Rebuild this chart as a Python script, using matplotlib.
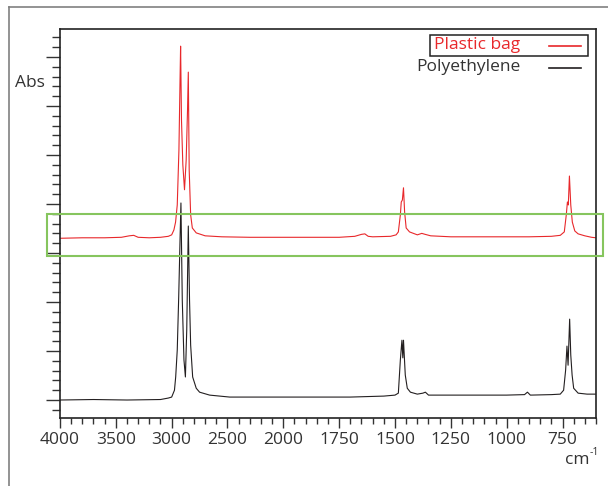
import numpy as np
import matplotlib
matplotlib.use('Agg')
import matplotlib.pyplot as plt
from matplotlib.ticker import FixedLocator, FuncFormatter, NullFormatter
from matplotlib.lines import Line2D
from matplotlib.patches import Rectangle

# spectra (wavenumber cm-1, absorbance)
bag_wn = [4000, 3800, 3600, 3450, 3380, 3340, 3300, 3200, 3100, 3030, 3000, 2980,
          2965, 2950, 2935, 2925, 2920, 2912, 2900, 2885, 2870, 2858, 2851, 2843,
          2830, 2815, 2780, 2700, 2550, 2300, 2000, 1750, 1680, 1650, 1635, 1620,
          1600, 1520, 1495, 1485, 1476, 1472, 1467, 1462, 1457, 1450, 1435, 1400,
          1380, 1365, 1340, 1250, 1100, 1000, 900, 800, 760, 742, 733, 728, 724,
          719, 713, 706, 695, 680, 650, 620, 600]
bag_abs = [0.330, 0.331, 0.331, 0.332, 0.335, 0.336, 0.332, 0.331, 0.332, 0.334, 0.337, 0.347,
           0.363, 0.398, 0.510, 0.653, 0.722, 0.571, 0.480, 0.429, 0.490, 0.592, 0.669, 0.469,
           0.378, 0.351, 0.341, 0.335, 0.333, 0.332, 0.332, 0.332, 0.334, 0.338, 0.339, 0.334,
           0.333, 0.334, 0.337, 0.343, 0.378, 0.404, 0.408, 0.433, 0.384, 0.351, 0.343, 0.337,
           0.340, 0.338, 0.335, 0.333, 0.333, 0.333, 0.333, 0.334, 0.336, 0.343, 0.378, 0.404, 0.398,
           0.457, 0.398, 0.363, 0.345, 0.339, 0.335, 0.332, 0.331]

pe_wn = [4000, 3700, 3400, 3100, 3030, 3000, 2975, 2964, 2950, 2937, 2925, 2917,
         2905, 2890, 2877, 2865, 2851, 2840, 2830, 2812, 2780, 2750, 2660, 2480,
         2000, 1700, 1550, 1500, 1485, 1476, 1469, 1465, 1462, 1454, 1445, 1431,
         1400, 1375, 1364, 1350, 1200, 1000, 920, 907, 894, 800, 760, 745, 736,
         730, 725, 718, 713, 707, 700, 680, 640, 600]
pe_abs = [0.000, 0.001, 0.000, 0.001, 0.004, 0.006, 0.020, 0.047, 0.102, 0.210, 0.327, 0.402,
          0.204, 0.082, 0.047, 0.143, 0.355, 0.204, 0.112, 0.047, 0.024, 0.016, 0.010, 0.006,
          0.006, 0.006, 0.008, 0.010, 0.014, 0.082, 0.122, 0.086, 0.122, 0.051, 0.024, 0.016,
          0.012, 0.014, 0.016, 0.010, 0.010, 0.010, 0.011, 0.016, 0.010, 0.011, 0.012, 0.020, 0.061,
          0.110, 0.071, 0.165, 0.092, 0.051, 0.024, 0.014, 0.012, 0.012]

major_x = [4000, 3500, 3000, 2500, 2000, 1750, 1500, 1250, 1000, 750]

plt.rcParams['font.family'] = ['Open Sans', 'DejaVu Sans']
txt = '#333333'


def fwd(x):
    x = np.asarray(x, dtype=float)
    return np.where(x >= 2000, 2000 + (x - 2000) / 2.0, x)


def inv(u):
    u = np.asarray(u, dtype=float)
    return np.where(u >= 2000, 2000 + 2.0 * (u - 2000), u)


fig = plt.figure(figsize=(6.08, 4.86), dpi=100)
ax = fig.add_axes([60 / 608, 68 / 486, 536 / 608, 389 / 486])

ax.plot(bag_wn, bag_abs, color='#e8282b', lw=0.8)
ax.plot(pe_wn, pe_abs, color='#231f20', lw=0.8)

ax.set_xscale('function', functions=(fwd, inv))
ax.set_xlim(4000, 600)
ax.set_ylim(-0.0367, 0.757)

minor_x = list(range(4000, 2000, -100)) + list(range(2000, 599, -50))
ax.xaxis.set_major_locator(FixedLocator(major_x))
ax.xaxis.set_minor_locator(FixedLocator(minor_x))
ax.xaxis.set_major_formatter(FuncFormatter(lambda v, p: '%d' % round(v)))
ax.xaxis.set_minor_formatter(NullFormatter())

ax.yaxis.set_major_locator(FixedLocator(np.arange(0, 0.71, 0.1)))
ax.yaxis.set_minor_locator(FixedLocator(np.arange(-0.02, 0.75, 0.02)))
ax.yaxis.set_major_formatter(NullFormatter())

ax.tick_params(axis='x', which='major', length=7, width=1, color='#333333',
               labelsize=12.5, labelcolor=txt, pad=3)
ax.tick_params(axis='x', which='minor', length=4, width=1, color='#333333')
ax.tick_params(axis='y', which='major', length=10, width=1, color='#333333')
ax.tick_params(axis='y', which='minor', length=6, width=1, color='#333333')
for s in ax.spines.values():
    s.set_linewidth(1.2)
    s.set_color('#222222')

# legend drawn by hand
ax.text(520 / 608, 1 - 45 / 486, 'Plastic bag', transform=fig.transFigure,
        ha='right', va='center', color='#e8282b', fontsize=12.5)
ax.text(520 / 608, 1 - 67 / 486, 'Polyethylene', transform=fig.transFigure,
        ha='right', va='center', color=txt, fontsize=12.5)
fig.add_artist(Line2D([549 / 608, 581 / 608], [1 - 46 / 486, 1 - 46 / 486],
                      color='#e8282b', lw=1.2))
fig.add_artist(Line2D([549 / 608, 581 / 608], [1 - 68 / 486, 1 - 68 / 486],
                      color='#231f20', lw=1.2))
fig.add_artist(Rectangle((430 / 608, 1 - 56 / 486), 158 / 608, 21 / 486,
                         transform=fig.transFigure, fill=False,
                         edgecolor='#222222', lw=1.1))

# highlighted region
fig.add_artist(Rectangle((47 / 608, 1 - 256 / 486), 556 / 608, 42 / 486,
                         transform=fig.transFigure, fill=False,
                         edgecolor='#86c55e', lw=1.5))

fig.text(30 / 608, 1 - 83 / 486, 'Abs', ha='center', va='center',
         color=txt, fontsize=12.5)
fig.text(590 / 608, 1 - 460 / 486, 'cm', ha='right', va='center',
         color=txt, fontsize=12.5)
fig.text(590 / 608, 1 - 452 / 486, '-1', ha='left', va='center',
         color=txt, fontsize=7.5)

# outer frame (left and top edges)
fig.add_artist(Line2D([9 / 608, 9 / 608], [0, 1 - 7 / 486], color='#808080', lw=1.2))
fig.add_artist(Line2D([9 / 608, 1], [1 - 7 / 486, 1 - 7 / 486], color='#808080', lw=1.2))

fig.savefig('out.png', dpi=100)
